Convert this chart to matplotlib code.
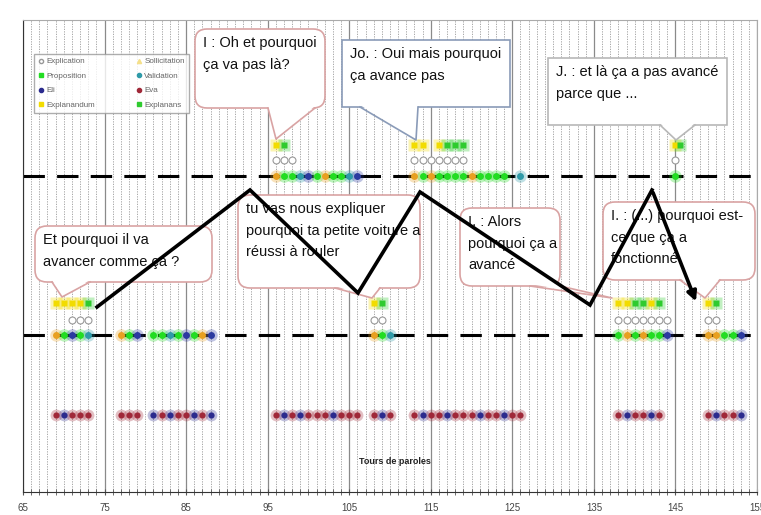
import matplotlib.pyplot as plt
from matplotlib.lines import Line2D
from matplotlib.patches import FancyBboxPatch, Polygon
from matplotlib.transforms import Affine2D

plt.rcParams['font.family'] = ['Liberation Sans', 'DejaVu Sans']

# Axe des tours de parole
X_MIN, X_MAX = 65, 155
tick_vals = [65, 75, 85, 95, 105, 115, 125, 135, 145, 155]
tick_labels = ['65', '75', '85', '95', '105', '115', '125', '135', '145', '155']

# Hauteur des lignes (unités arbitraires)
Y_HAUT_SQ, Y_HAUT_CI, Y_HAUT_LI = 347, 332, 316
Y_BAS_SQ, Y_BAS_CI, Y_BAS_LI = 189, 172, 157
Y_ELEVES = 77

# Explanandum (Y) / Explanans (G) : groupe du haut
haut_sq_x = [96, 97, 113, 114, 116, 117, 118, 119, 145, 145.5]
haut_sq_c = "YGYYYGGGYG"
# Explications : cercles vides du haut
haut_ci_x = [96, 97, 98, 113, 114, 115, 116, 117, 118, 119, 145]
# Tours sur la ligne pointillée du haut (P=Proposition, V=Validation, S=Sollicitation, E=Eli)
haut_li_x = [96, 97, 98, 99, 100, 101, 102, 103, 104, 105, 106,
             113, 114, 115, 116, 117, 118, 119, 120, 121, 122, 123, 124, 126, 145]
haut_li_c = "SPPVEPSPPVE" + "SPSPPPPSPPPP" + "V" + "P"

# Groupe du bas
bas_sq_x = [69, 70, 71, 72, 73, 108, 109, 138, 139, 140, 141, 142, 143, 149, 150]
bas_sq_c = "YYYYG" + "YG" + "YYGGYG" + "YG"
bas_ci_x = [71, 72, 73, 108, 109, 138, 139, 140, 141, 142, 143, 144, 149, 150]
bas_li_x = [69, 70, 71, 72, 73, 77, 78, 79, 81, 82, 83, 84, 85, 86, 87, 88,
            108, 109, 110, 138, 139, 140, 141, 142, 143, 144, 149, 150, 151, 152, 153]
bas_li_c = "SPEPV" + "SPE" + "PPVPEPSE" + "SPV" + "PSPSPPE" + "SSPPE"

# Eli (B) / Eva (R)
eleves_x = [69, 70, 71, 72, 73, 77, 78, 79, 81, 82, 83, 84, 85, 86, 87, 88,
            96, 97, 98, 99, 100, 101, 102, 103, 104, 105, 106, 108, 109, 110,
            113, 114, 115, 116, 117, 118, 119, 120, 121, 122, 123, 124, 125, 126,
            138, 139, 140, 141, 142, 143, 149, 150, 151, 152, 153]
eleves_c = ("RBRRR" + "RRR" + "BRBRRBRB" + "RBRBRRRBRRR" + "RBR" +
            "RBRRBRRRBRRBRR" + "RBRRBR" + "RBRRB")

COUL = {'Y': '#F2DC00', 'G': '#2FCB2F', 'P': '#22DD22', 'V': '#2E9AA8',
        'S': '#E8A020', 'E': '#2B3AA0', 'R': '#A02838', 'B': '#2B2B8E'}

# Bulles de dialogue (en pixels de la figure)
bulles = [
    ("I : Oh et pourquoi\nça va pas là?", (195, 29, 325, 108), (268, 315), (276, 139), '#D9A3A3', True),
    ("Jo. : Oui mais pourquoi\nça avance pas", (342, 40, 510, 107), (360, 418), (416, 140), '#8A9BB8', False),
    ("J. : et là ça a pas avancé\nparce que ...", (548, 58, 727, 125), (660, 695), (676, 140), '#B8B8B8', False),
    ("Et pourquoi il va\navancer comme ça ?", (35, 226, 212, 282), (52, 90), (62, 297), '#D9A3A3', True),
    ("tu vas nous expliquer\npourquoi ta petite voiture a\nréussi à rouler", (238, 195, 420, 288), (335, 380), (372, 298), '#D9A3A3', True),
    ("I. : Alors\npourquoi ça a\navancé", (460, 208, 560, 286), (530, 560), (612, 298), '#D9A3A3', True),
    ("I. : (...) pourquoi est-\nce que ça a\nfonctionné", (603, 202, 755, 280), (680, 720), (705, 298), '#D9A3A3', True),
]
zigzag = [(97, 307), (250, 190), (358, 293), (420, 192), (590, 305), (652, 190), (697, 304)]

fig = plt.figure(figsize=(7.61, 5.15), dpi=100)
ax = fig.add_axes([23 / 761, 23 / 515, 734 / 761, 472 / 515])
ax.set_xlim(X_MIN, X_MAX)
ax.set_ylim(0, 472)

# Grille : pointillés à chaque tour, traits pleins tous les 10
for x in range(X_MIN, X_MAX + 1):
    ax.axvline(x, color='#9a9a9a', lw=0.6, ls=(0, (1.5, 1.5)), zorder=0)
for x in tick_vals:
    ax.axvline(x, color='#8a8a8a', lw=0.9, zorder=0)

# Lignes pointillées épaisses
ax.axhline(Y_HAUT_LI, color='black', lw=2.2, ls=(0, (7, 4)), zorder=1)
ax.axhline(Y_BAS_LI, color='black', lw=2.2, ls=(0, (7, 4)), zorder=1)


def points(xs, y, codes, marker='o', ms=5):
    for x, c in zip(xs, codes):
        ax.plot(x, y, marker=marker, ms=ms + 4, color=COUL[c], alpha=0.3, mec='none', zorder=2)
        ax.plot(x, y, marker=marker, ms=ms, color=COUL[c], mec='none', zorder=3)


def cercles(xs, y):
    ax.plot(xs, [y] * len(xs), 'o', ms=5, mfc='white', mec='#999999', mew=0.8, ls='none', zorder=3)


points(haut_sq_x, Y_HAUT_SQ, haut_sq_c, marker='s', ms=5)
cercles(haut_ci_x, Y_HAUT_CI)
points(haut_li_x, Y_HAUT_LI, haut_li_c)
points(bas_sq_x, Y_BAS_SQ, bas_sq_c, marker='s', ms=5)
cercles(bas_ci_x, Y_BAS_CI)
points(bas_li_x, Y_BAS_LI, bas_li_c)
points(eleves_x, Y_ELEVES, eleves_c, ms=4.5)

ax.text(110.6, 31, "Tours de paroles", ha='center', va='center', fontsize=6.5,
        fontweight='bold', color='#222222', zorder=4)

# Axes
ax.set_xticks(range(X_MIN, X_MAX + 1), minor=True)
ax.set_xticks(tick_vals)
ax.set_xticklabels(tick_labels, fontsize=7, color='#444444')
ax.tick_params(axis='x', which='both', direction='inout', length=4, color='#555555', pad=6)
ax.set_yticks([])
for s in ['top', 'right']:
    ax.spines[s].set_color('#aaaaaa')
for s in ['left', 'bottom']:
    ax.spines[s].set_color('#333333')

# Légende
handles = [
    Line2D([], [], marker='o', ls='none', mfc='white', mec='#999999', ms=3, label='Explication'),
    Line2D([], [], marker='s', ls='none', color=COUL['P'], ms=3, label='Proposition'),
    Line2D([], [], marker='o', ls='none', color=COUL['B'], ms=3, label='Eli'),
    Line2D([], [], marker='s', ls='none', color=COUL['Y'], ms=3, label='Explanandum'),
    Line2D([], [], marker='^', ls='none', color='#F5E08A', ms=3, label='Sollicitation'),
    Line2D([], [], marker='o', ls='none', color=COUL['V'], ms=3, label='Validation'),
    Line2D([], [], marker='o', ls='none', color=COUL['R'], ms=3, label='Eva'),
    Line2D([], [], marker='s', ls='none', color=COUL['G'], ms=3, label='Explanans'),
]
leg = ax.legend(handles=handles, ncol=2, loc='upper left', bbox_to_anchor=(0.009, 0.937),
                fontsize=5.8, frameon=True, fancybox=False, edgecolor='#999999',
                borderpad=0.5, labelspacing=0.85, handlelength=0.8, handletextpad=0.3,
                columnspacing=5.0, labelcolor='#666666')
leg.set_zorder(5)

# Bulles et zigzag, placés en pixels
px = Affine2D().scale(1 / 100) + fig.dpi_scale_trans
H = 515
for txt, (x0, y0, x1, y1), (b0, b1), (tx, ty), ec, rond in bulles:
    style = 'round,pad=0,rounding_size=12' if rond else 'square,pad=0'
    ax.add_patch(FancyBboxPatch((x0, H - y1), x1 - x0, y1 - y0, boxstyle=style, transform=px,
                                fc='white', ec=ec, lw=1.2, zorder=6, clip_on=False))
    ax.add_patch(Polygon([(b0, H - y1 + 2), (tx, H - ty), (b1, H - y1 + 2)], closed=True,
                         transform=px, fc='white', ec='none', zorder=6.5, clip_on=False))
    ax.add_line(Line2D([b0, tx, b1], [H - y1, H - ty, H - y1], transform=px, color=ec,
                       lw=1.2, zorder=6.6, clip_on=False))
    ax.text(x0 + 8, H - y0 - 7, txt, transform=px, ha='left', va='top', fontsize=10.5,
            color='#111111', linespacing=1.7, zorder=7)

zx = [p[0] for p in zigzag]
zy = [H - p[1] for p in zigzag]
ax.add_line(Line2D(zx[:-1], zy[:-1], transform=px, color='black', lw=2.6, zorder=8,
                   solid_joinstyle='miter', clip_on=False))
ax.annotate('', xy=(zx[-1], zy[-1]), xytext=(zx[-2], zy[-2]), xycoords=px, textcoords=px,
            arrowprops=dict(arrowstyle='-|>', color='black', lw=2.6, mutation_scale=14),
            zorder=8)

fig.savefig('out.png', dpi=100)
